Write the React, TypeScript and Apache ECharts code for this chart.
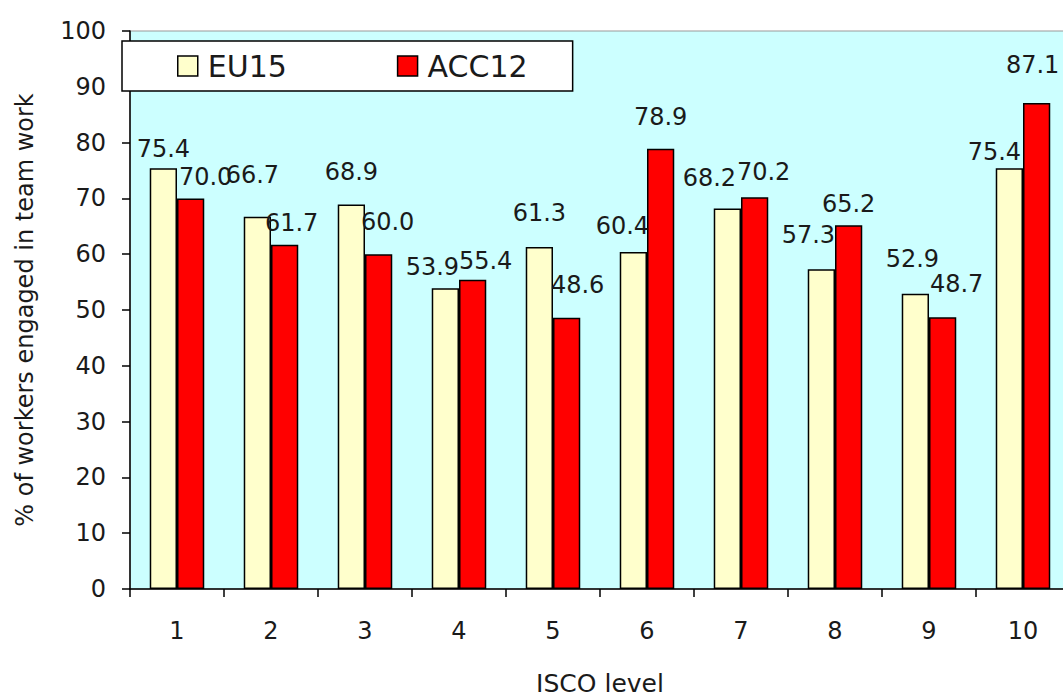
import React, { useEffect, useRef } from "react";
import * as echarts from "echarts";

const categories = ["1", "2", "3", "4", "5", "6", "7", "8", "9", "10"];
const eu15 = [75.4, 66.7, 68.9, 53.9, 61.3, 60.4, 68.2, 57.3, 52.9, 75.4];
const acc12 = [70.0, 61.7, 60.0, 55.4, 48.6, 78.9, 70.2, 65.2, 48.7, 87.1];
const yTicks = { min: 0, max: 100, interval: 10 };

// label placement style (horizontal shift, gap above bar) as in the original
const eu15LabelStyle = [
  [0, 12], [-5, 35], [0, 26], [-13, 14], [0, 27], [-11, 19], [-18, 23], [-13, 27], [-3, 28], [-15, 9],
];
const acc12LabelStyle = [
  [15, 14], [7, 15], [9, 25], [13, 12], [11, 26], [0, 25], [9, 18], [0, 14], [14, 26], [-4, 31],
];

const FONT = "DejaVu Sans";
const TXT = "#1a1a1a";

function buildData(values: number[], style: number[][]) {
  return values.map((v, i) => ({
    value: v,
    label: { offset: [style[i][0], -(style[i][1] - 5)] },
  }));
}

export default function App() {
  const ref = useRef<HTMLDivElement>(null);
  useEffect(() => {
    if (!ref.current) return;
    const chart = echarts.init(ref.current, undefined, { renderer: "svg" });
    const barLabel = {
      show: true,
      position: "top",
      distance: 0,
      fontFamily: FONT,
      fontSize: 24,
      color: TXT,
      formatter: (p: any) => Number(p.value).toFixed(1),
    };
    chart.setOption({
      animation: false,
      backgroundColor: "#ffffff",
      textStyle: { fontFamily: FONT, color: TXT },
      grid: {
        left: 130,
        top: 31,
        width: 940,
        height: 558,
        show: true,
        backgroundColor: "#CCFFFF",
        borderColor: "#999999",
        borderWidth: 1,
        containLabel: false,
        outerBoundsMode: "none",
      },
      legend: {
        left: 122,
        top: 41,
        padding: [10, 45, 10, 55],
        itemGap: 110,
        itemWidth: 20,
        itemHeight: 20,
        backgroundColor: "#ffffff",
        borderColor: "#000000",
        borderWidth: 1.5,
        borderRadius: 0,
        textStyle: { fontFamily: FONT, fontSize: 30, color: TXT, padding: [0, 0, 0, 5] },
        data: [
          { name: "EU15", icon: "rect", itemStyle: { color: "#FFFFCC", borderColor: "#000", borderWidth: 1.5 } },
          { name: "ACC12", icon: "rect", itemStyle: { color: "#FF0000", borderColor: "#000", borderWidth: 1.5 } },
        ],
      },
      xAxis: {
        type: "category",
        data: categories,
        name: "ISCO level",
        nameLocation: "middle",
        nameGap: 82,
        nameTextStyle: { fontFamily: FONT, fontSize: 25, color: TXT },
        axisLine: { lineStyle: { color: "#000", width: 1.5 } },
        axisTick: { show: true, alignWithLabel: false, length: 8, lineStyle: { color: "#000", width: 1.5 } },
        axisLabel: { margin: 30, fontFamily: FONT, fontSize: 24, color: TXT },
        splitLine: { show: false },
      },
      yAxis: {
        type: "value",
        min: yTicks.min,
        max: yTicks.max,
        interval: yTicks.interval,
        name: "% of workers engaged in team work",
        nameLocation: "middle",
        nameGap: 93,
        nameRotate: 90,
        nameTextStyle: { fontFamily: FONT, fontSize: 24, color: TXT },
        axisLine: { show: true, lineStyle: { color: "#000", width: 1.5 } },
        axisTick: { show: true, length: 8, lineStyle: { color: "#000", width: 1.5 } },
        axisLabel: { margin: 24, fontFamily: FONT, fontSize: 24, color: TXT },
        splitLine: { show: false },
      },
      series: [
        {
          name: "EU15",
          type: "bar",
          data: buildData(eu15, eu15LabelStyle),
          barGap: "0%",
          barCategoryGap: "42%",
          itemStyle: { color: "#FFFFCC", borderColor: "#000", borderWidth: 1.5 },
          label: barLabel,
        },
        {
          name: "ACC12",
          type: "bar",
          data: buildData(acc12, acc12LabelStyle),
          barGap: "0%",
          barCategoryGap: "42%",
          itemStyle: { color: "#FF0000", borderColor: "#000", borderWidth: 1.5 },
          label: barLabel,
        },
      ],
    });
    return () => chart.dispose();
  }, []);
  return (
    <div
      ref={ref}
      style={{ position: "absolute", left: 0, top: 0, width: 1063, height: 698 }}
    />
  );
}
